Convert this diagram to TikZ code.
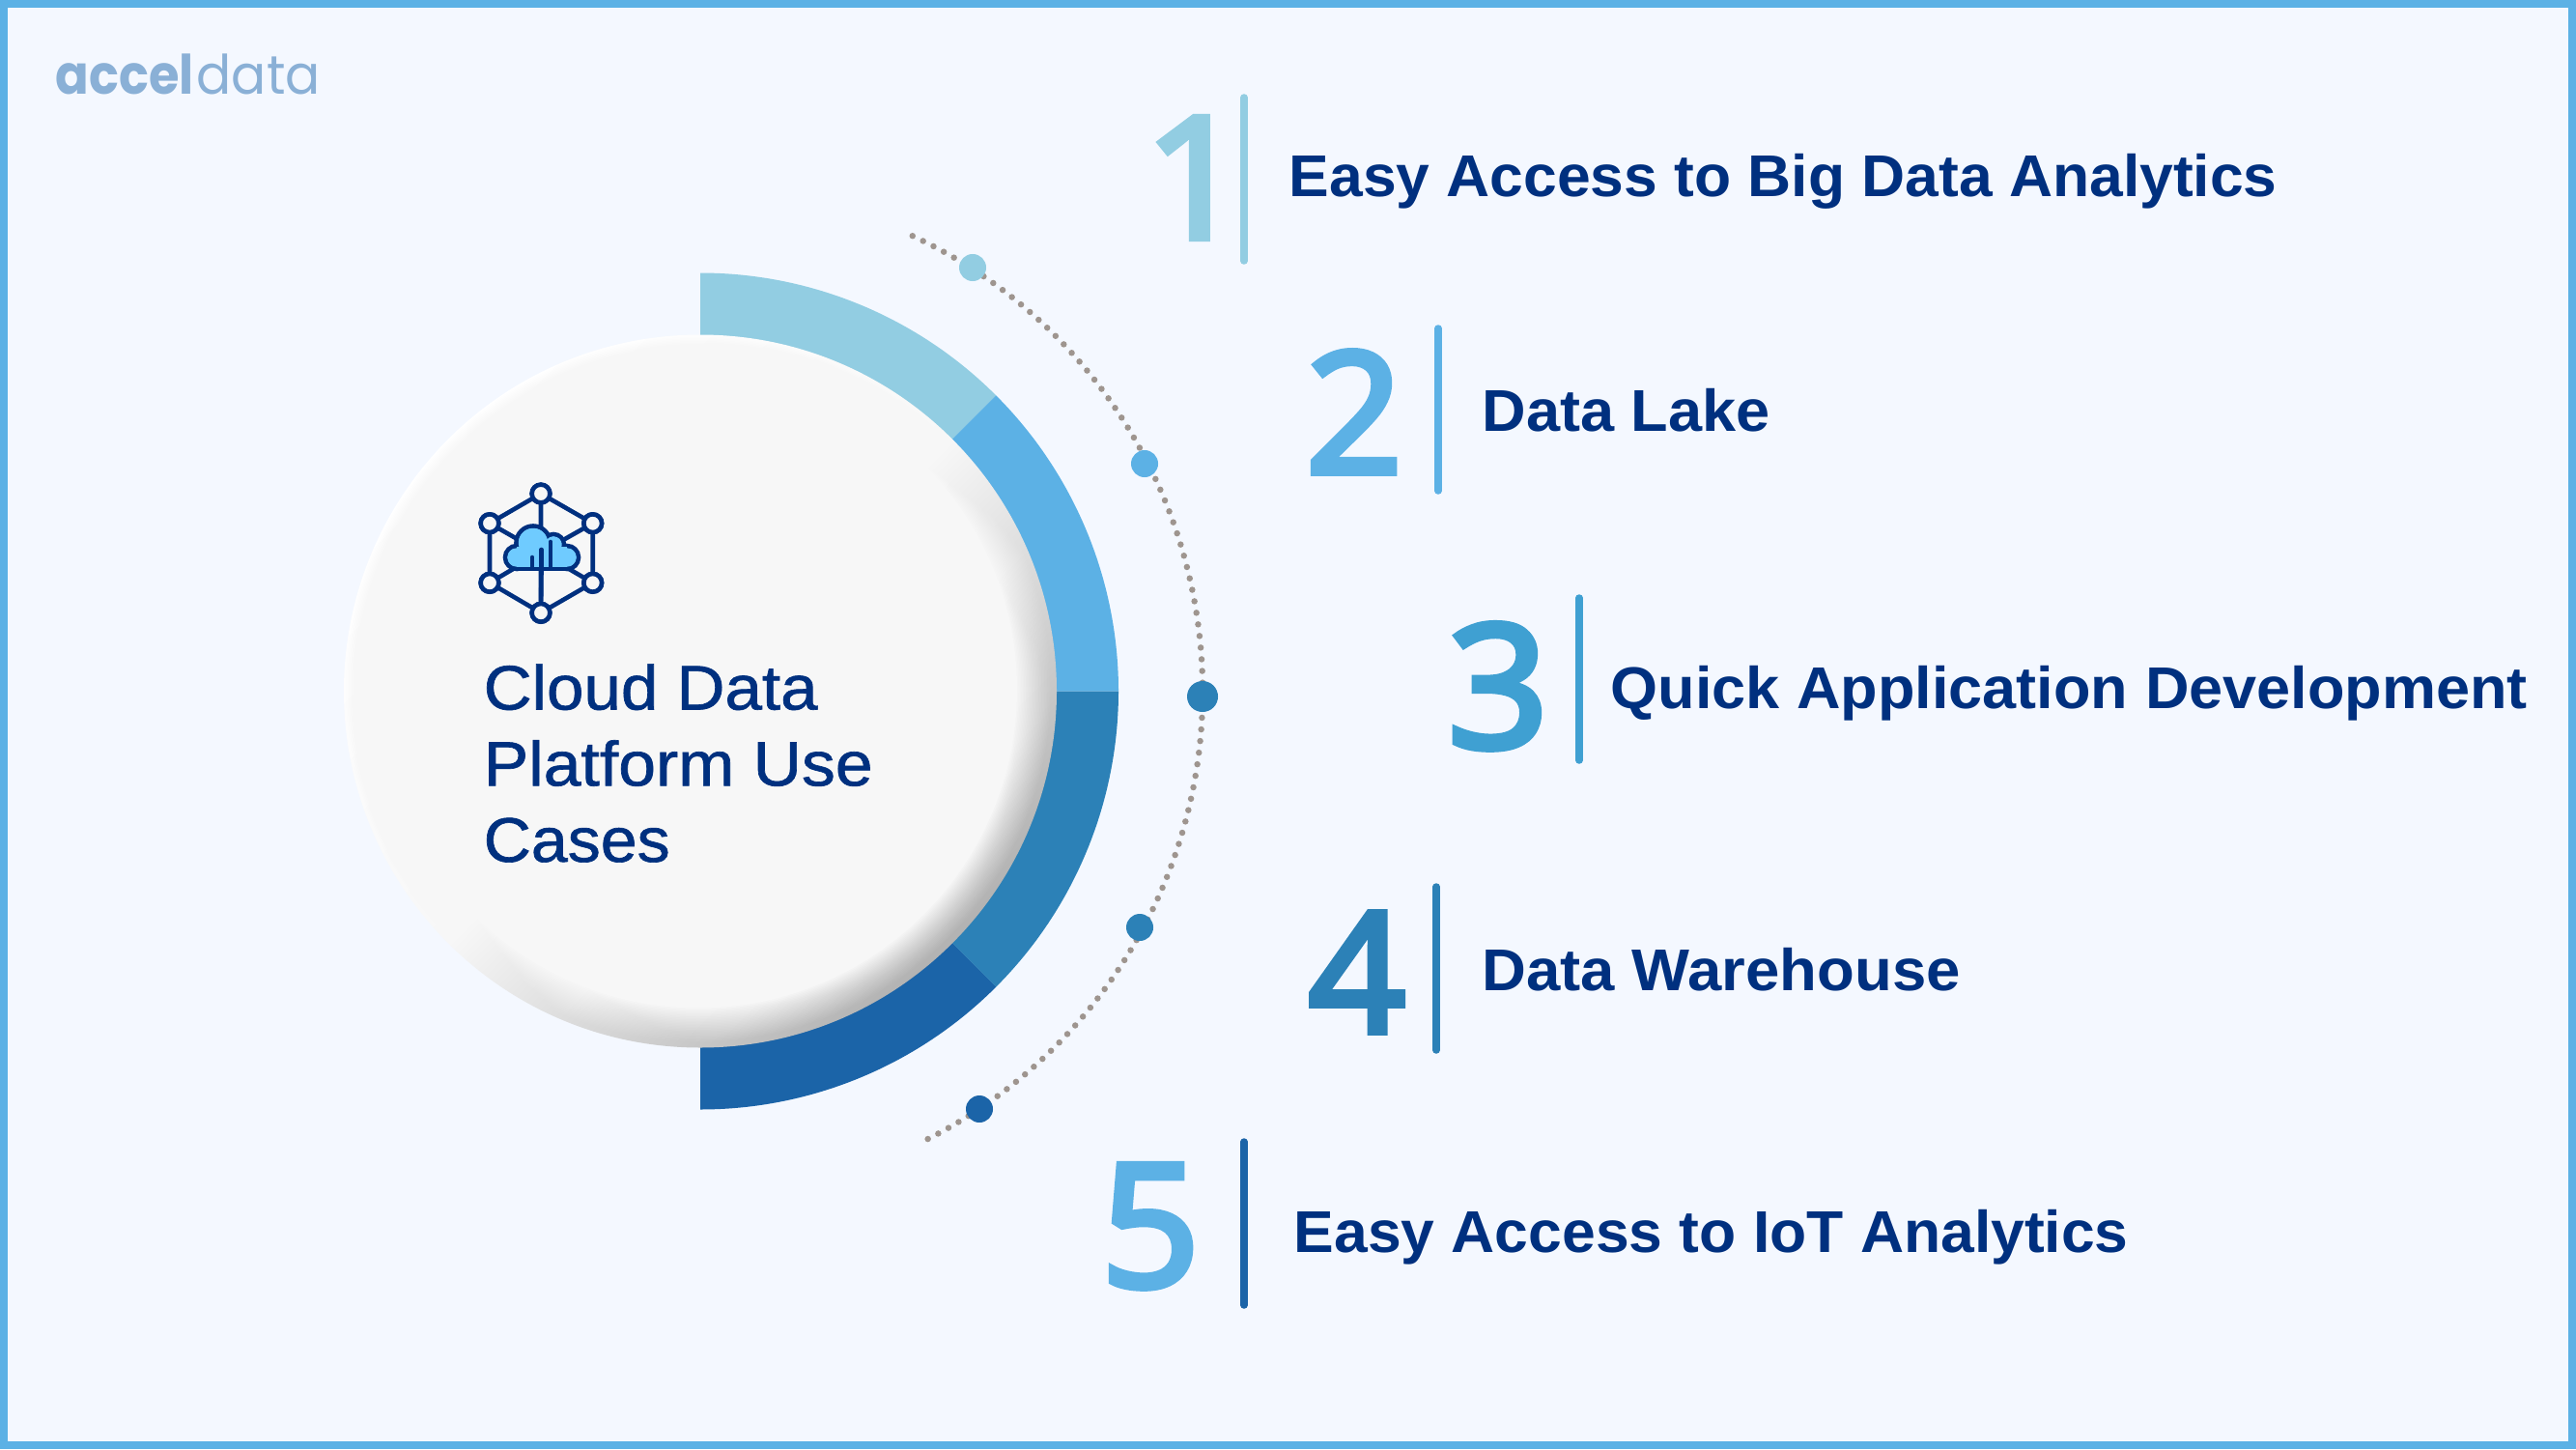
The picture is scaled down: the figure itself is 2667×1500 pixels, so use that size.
\documentclass[tikz,border=0pt]{standalone}
\usepackage{fontspec}
\usepackage{graphicx}
\setmainfont{Liberation Sans}
\newfontfamily\logobold[BoldFont={Poppins Bold}]{Poppins}
\newfontfamily\logothin{Poppins}
\newfontfamily\lblfont[BoldFont={Liberation Sans Bold}]{Liberation Sans}
\newfontfamily\midfont[FakeBold=1]{Liberation Sans}
\newfontfamily\numfont[FakeBold=3.4]{Noto Sans}
\definecolor{bgc}{HTML}{F4F8FF}
\definecolor{cA}{HTML}{92CDE2}
\definecolor{cB}{HTML}{5CB1E5}
\definecolor{cC}{HTML}{2C81B7}
\definecolor{cD}{HTML}{1B64A8}
\definecolor{cE}{HTML}{3FA0D2}
\definecolor{navy}{HTML}{00307F}
\definecolor{dotc}{HTML}{9E958F}
\definecolor{logoc}{HTML}{8AB0D6}
\definecolor{cloudc}{HTML}{6FCBFF}
\definecolor{disc}{HTML}{F7F7F7}
\newcommand{\fitw}[2]{\resizebox{#1\dimexpr 0.01cm\relax}{\height}{#2}}
\newcommand{\fitwh}[3]{\resizebox{#1\dimexpr 0.01cm\relax}{#2\dimexpr 0.01cm\relax}{#3}}
\tikzset{
  px/.style={line width=#1*0.01cm},
  sector/.style={fill=#1,draw=none},
  vbar/.style={draw=#1,px=7.5,line cap=round},
  marker/.style={circle,fill=#1,draw=none,minimum size=0.28cm,inner sep=0pt},
  itemlabel/.style={anchor=base west,inner sep=0pt,text=navy,font=\lblfont\fontsize{17.35}{20}\selectfont\bfseries},
  numeral/.style={anchor=base,inner sep=0pt,text=#1,font=\numfont\fontsize{52}{60}\selectfont},
  hexnode/.style={circle,draw=navy,fill=disc,px=4.6,minimum size=0.187cm,inner sep=0pt},
  iconline/.style={draw=navy,px=4.6,line cap=round},
}
\begin{document}
\begin{tikzpicture}[x=0.01cm,y=-0.01cm]
\useasboundingbox (0,0) rectangle (2667,1500);
% background and frame
\fill[bgc] (0,0) rectangle (2667,1500);
\draw[cB,px=8] (4,4) rectangle (2663,1496);
% logo
\node[anchor=base west,inner sep=0pt,text=logoc] (logo) at (57,98)
  {\fitw{143}{\fontsize{16}{18}\logobold\bfseries\selectfont accel}\hspace{0.03cm}\fitw{128}{\fontsize{16}{18}\logothin\selectfont data}};
% ring
\coordinate (c) at (725,715.5);
\foreach \a/\b/\col in {-90/-45/cA,-45/0/cB,0/45/cC,45/90/cD}{
  \fill[sector=\col] (c) -- ++(\a:433) arc[start angle=\a,end angle=\b,radius=433] -- cycle;
}
% disc: directional rim, then a linear fade towards the flat centre
\shade[shading=axis,top color=white,bottom color=black!30,middle color=disc,shading angle=45] (c) circle[radius=369];
\foreach \k in {1,...,24}{
  \pgfmathsetmacro{\rr}{366-1.5*\k}
  \pgfmathsetmacro{\oo}{1/(25-\k)}
  \fill[disc,fill opacity=\oo] (723,713.5) circle[radius=\rr];
}
% dotted arc
\draw[dotc,px=6.5,line cap=round,dash pattern=on 0pt off 0.121cm]
  (c) ++(-65:520) arc[start angle=-65,end angle=64,radius=520];
\node[marker=cA] (m1) at (1007,277) {};
\node[marker=cB] (m2) at (1185,480) {};
\node[marker=cC,minimum size=0.32cm] (m3) at (1245,721) {};
\node[marker=cC] (m4) at (1180,960) {};
\node[marker=cD] (m5) at (1014,1148) {};
% icon
\node[hexnode] (ht) at (560,511) {};
\node[hexnode] (hr) at (613.7,541.7) {};
\node[hexnode] (hq) at (613.7,603.3) {};
\node[hexnode] (hb) at (560,634.3) {};
\node[hexnode] (hp) at (507,603.3) {};
\node[hexnode] (hl) at (507,541.7) {};
\coordinate (cc) at (560,572);
\draw[iconline] (ht)--(hr)--(hq)--(hb)--(hp)--(hl)--(ht);
\draw[iconline] (ht)--(cc) (hb)--(cc) (hr)--(cc) (hq)--(cc) (hp)--(cc) (hl)--(cc);
\begin{scope}
\draw[navy,px=4.6,fill=cloudc] (535,577) circle[radius=12] (552,562) circle[radius=17.5]
  (573,564) circle[radius=11] (587,577) circle[radius=12];
\draw[navy,px=4.6,fill=cloudc] (535,565) rectangle (587,589);
\fill[cloudc] (535,577) circle[radius=9.7] (552,562) circle[radius=15.2]
  (573,564) circle[radius=8.7] (587,577) circle[radius=9.7];
\fill[cloudc] (535,566) rectangle (587,586.7);
\end{scope}
\draw[iconline,line cap=butt] (hb) -- (560.5,590);
\draw[iconline] (551,587) -- (551,577) (560.5,590) -- (560.5,569) (570,587) -- (570,561);
\foreach \n in {ht,hr,hq,hb,hp,hl}{\node[hexnode] at (\n) {};}
% centre text
\node[anchor=west,align=left,inner sep=0pt,text=navy,font=\midfont\fontsize{18.5}{22.4}\selectfont] (title) at (500,790)
  {\fitw{346}{Cloud Data}\\\fitw{403}{Platform Use}\\\fitw{193}{Cases}};
% items
\node[numeral=cA] (n1) at (1237,247) {\fitwh{105}{126}{1}};
\draw[vbar=cA] (1288,101) -- (1288,270);
\node[itemlabel] (t1) at (1334,203) {\fitw{1023}{Easy Access to Big Data Analytics}};

\node[numeral=cB] (n2) at (1402,490) {\fitwh{101}{127}{2}};
\draw[vbar=cB] (1489,340) -- (1489,508);
\node[itemlabel] (t2) at (1534,446) {\fitw{298}{Data Lake}};

\node[numeral=cE] (n3) at (1551,774) {\fitwh{105}{129}{3}};
\draw[vbar=cE] (1635,619) -- (1635,787);
\node[itemlabel] (t3) at (1667,733) {\fitw{949}{Quick Application Development}};

\node[numeral=cC] (n4) at (1405,1069) {\fitwh{101}{125}{4}};
\draw[vbar=cC] (1487,918) -- (1487,1087);
\node[itemlabel] (t4) at (1534,1025) {\fitw{495}{Data Warehouse}};

\node[numeral=cB] (n5) at (1191,1332) {\fitwh{103}{127}{5}};
\draw[vbar=cD] (1288,1182) -- (1288,1351);
\node[itemlabel] (t5) at (1339,1296) {\fitw{864}{Easy Access to IoT Analytics}};
\end{tikzpicture}
\end{document}
